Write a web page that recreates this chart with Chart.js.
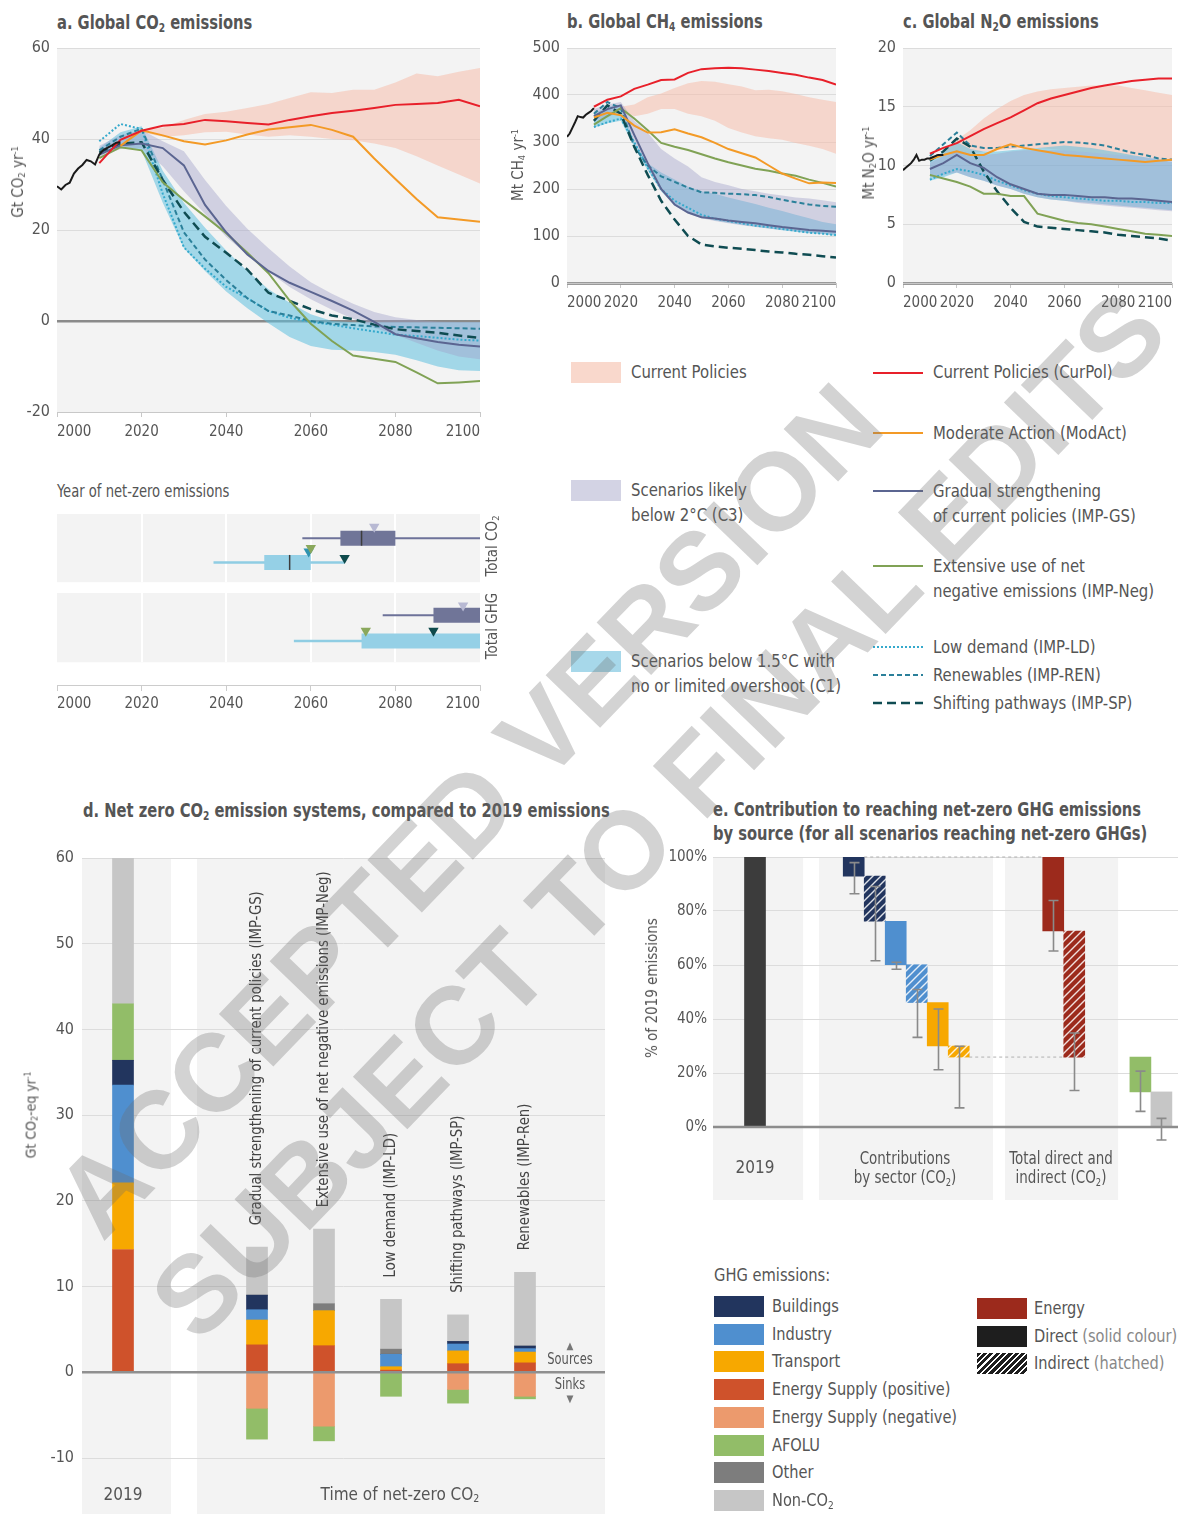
<!DOCTYPE html>
<html><head><meta charset="utf-8">
<script src="https://cdn.jsdelivr.net/npm/chart.js@4.4.1/dist/chart.umd.min.js"></script>
<style>
html,body{margin:0;padding:0;background:#fff}
body{width:1178px;height:1514px;position:relative;overflow:hidden;font-family:'DejaVu Sans Condensed','Liberation Sans Narrow',sans-serif;color:#555}
canvas{position:absolute}
.t{position:absolute;white-space:nowrap;line-height:1.2;font-size:18px}
.ttl{font-weight:bold;font-size:19px;color:#555}
sub{font-size:0.62em;vertical-align:-0.25em;line-height:0}
sup{font-size:0.6em;vertical-align:0.55em;line-height:0}
.sw{position:absolute}
.wm{position:absolute;white-space:nowrap;font-family:'Liberation Sans',Arial,sans-serif;font-weight:bold;font-size:110px;color:#6e6e6e;opacity:.3;z-index:20;pointer-events:none;line-height:1}
</style></head><body>
<script>
// ================= DATA =================
const yrs = [2010,2015,2020,2025,2030,2035,2040,2045,2050,2055,2060,2065,2070,2075,2080,2085,2090,2095,2100];

// a. CO2 (Gt CO2/yr)
const aHistYears = [2000,2001,2002,2003,2004,2005,2006,2007,2008,2009,2010,2011,2012,2013,2014,2015];
const aHist = [29.6,28.9,29.9,30.4,32.4,33.5,34.3,35.4,35.1,34.4,36.6,37.6,38.1,38.6,39.2,39.3];
const aCurPol = [34.7,39.8,41.8,42.9,43.3,44.2,43.9,43.5,43.2,44.2,45.0,45.7,46.2,46.8,47.5,47.7,47.9,48.6,47.2];
const aModAct = [null,38.5,41.9,40.8,39.5,38.8,39.7,41.0,42.1,42.6,43.1,42.0,40.5,35.7,31.2,26.8,22.8,22.3,21.8];
const aGS = [36.6,38.6,39.0,38.0,34.2,25.5,19.5,14.6,11.0,8.4,6.4,4.4,2.3,-0.2,-2.9,-3.8,-4.6,-5.2,-5.6];
const aNeg = [35.8,38.2,37.5,30.5,26.6,23.0,19.3,15.0,10.5,4.5,-0.6,-4.4,-7.6,-8.3,-9.0,-11.3,-13.7,-13.5,-13.2];
const aLD = [39.5,43.3,42.2,28.0,16.2,11.5,7.5,5.0,2.2,0.7,-0.2,-0.8,-1.6,-2.3,-3.0,-3.3,-3.7,-4.1,-4.3];
const aRen = [37.5,40.5,42.3,31.0,19.5,13.5,9.0,5.0,2.2,1.2,0.0,-0.6,-0.9,-1.2,-1.3,-1.4,-1.5,-1.6,-1.7];
const aSP = [37.0,39.0,39.3,31.0,24.0,18.5,15.0,11.3,6.2,4.4,2.6,1.2,0.4,-0.8,-1.8,-2.2,-2.6,-3.2,-3.7];
const aCPHi = [null,null,42.0,42.5,44.2,45.5,46.0,46.8,47.7,49.0,50.3,50.1,50.8,50.8,52.4,54.4,53.8,54.8,55.6];
const aCPLo = [null,null,41.5,40.5,40.8,41.5,41.6,41.0,40.5,40.8,40.5,40.0,39.7,39.0,38.0,36.2,34.2,32.2,30.2];
const aC3Hi = [38.5,40.8,42.0,39.5,37.3,31.0,25.3,20.3,16.0,12.0,8.5,6.0,3.8,2.0,0.8,0.2,-0.1,-0.2,-0.2];
const aC3Lo = [36.0,37.8,38.0,34.0,28.5,23.5,18.5,14.5,10.8,7.5,4.8,2.5,0.5,-1.5,-3.0,-4.8,-6.5,-7.8,-8.4];
const aC1Hi = [38.0,41.5,42.8,33.0,26.0,20.5,15.5,11.0,7.0,4.0,1.5,0.0,-0.3,-0.3,-0.3,-0.3,-0.3,-0.3,-0.3];
const aC1Lo = [36.5,38.5,37.5,26.0,16.0,11.0,6.5,2.8,-0.5,-3.5,-5.5,-6.3,-6.5,-6.8,-7.4,-8.6,-10.0,-10.8,-11.0];

// b. CH4 (Mt CH4/yr)
const bHistYears = [2000,2001,2002,2003,2004,2005,2006,2007,2008,2009,2010];
const bHist = [311,318,330,342,355,353,352,358,362,366,372];
const bCurPol = [375,390,397,413,422,432,433,447,455,457,458,457,454,451,447,443,437,432,422];
const bModAct = [352,362,357,335,320,321,327,318,310,298,285,276,267,250,233,222,212,214,213];
const bGS = [355,370,378,315,255,200,167,150,140,137,133,130,127,123,119,116,113,111,109];
const bNeg = [337,355,372,350,325,298,290,283,274,265,257,250,243,239,233,228,220,213,205];
const bLD = [332,342,350,300,245,200,175,160,145,137,132,127,122,119,115,111,107,105,102];
const bRen = [360,385,372,290,250,227,215,203,193,192,190,189,187,183,177,172,167,164,162];
const bSP = [345,378,360,290,230,175,135,100,82,78,75,73,70,67,65,62,60,57,54];
const bCPHi = [null,null,375,380,395,403,415,425,430,428,423,418,410,411,408,402,395,390,385];
const bCPLo = [null,null,368,355,360,370,370,360,355,345,330,320,312,308,305,298,292,285,275];
const bC3Hi = [370,380,385,345,320,285,265,248,225,215,208,200,195,190,186,182,180,176,172];
const bC3Lo = [345,352,365,300,245,200,165,148,138,132,127,123,119,116,113,110,107,105,103];
const bC1Hi = [360,375,380,300,255,235,220,205,195,190,182,175,168,160,153,145,138,130,125];
const bC1Lo = [330,340,345,290,240,195,165,150,140,133,128,124,120,116,112,109,106,104,100];

// c. N2O (Mt N2O/yr)
const cHistYears = [2000,2001,2002,2003,2004,2005,2006,2007,2008,2009,2010,2011,2012,2013,2014,2015];
const cHist = [9.6,9.8,10.0,10.2,10.5,10.9,10.4,10.5,10.5,10.6,10.6,10.7,10.8,10.9,10.9,10.9];
const cCurPol = [11.0,11.5,11.9,12.5,13.1,13.6,14.1,14.7,15.3,15.7,16.0,16.3,16.6,16.8,17.0,17.2,17.3,17.4,17.4];
const cModAct = [10.5,10.9,11.2,10.9,10.9,11.4,11.8,11.5,11.3,11.1,10.9,10.8,10.7,10.6,10.5,10.4,10.3,10.4,10.5];
const cGS = [9.7,10.2,10.9,10.2,9.8,9.0,8.4,8.0,7.6,7.5,7.5,7.4,7.3,7.3,7.2,7.2,7.1,7.0,6.9];
const cNeg = [9.2,8.9,8.6,8.2,7.6,7.6,7.4,7.4,5.9,5.6,5.3,5.1,5.0,4.8,4.6,4.4,4.2,4.1,4.0];
const cLD = [8.8,9.3,9.7,9.5,9.2,8.7,8.3,7.9,7.6,7.4,7.3,7.2,7.1,7.0,7.0,6.9,6.9,6.8,6.8];
const cRen = [10.8,11.8,12.8,11.7,11.5,11.5,11.6,11.7,11.8,11.9,12.0,11.95,11.85,11.7,11.4,11.1,10.9,10.6,10.5];
const cSP = [10.4,11.2,12.3,11.6,9.5,7.8,6.4,5.2,4.8,4.7,4.6,4.5,4.4,4.3,4.1,4.0,3.9,3.8,3.6];
const cCPHi = [null,11.2,12.2,13.0,14.0,14.8,15.5,16.0,16.3,16.5,16.6,16.7,16.8,16.8,16.8,16.6,16.4,16.2,16.0];
const cCPLo = [null,10.9,11.0,11.0,11.2,11.3,11.4,11.5,11.5,11.4,11.3,11.2,11.1,11.0,10.9,10.8,10.7,10.6,10.5];
const cC3Hi = [10.2,10.8,11.3,11.0,10.9,11.0,11.2,11.3,11.3,11.3,11.3,11.2,11.1,11.0,10.9,10.8,10.7,10.6,10.5];
const cC3Lo = [9.0,9.2,9.4,9.0,8.7,8.3,8.0,7.6,7.3,7.1,7.0,6.8,6.7,6.6,6.5,6.4,6.3,6.2,6.1];
const cC1Hi = [10.4,11.2,12.0,11.4,11.2,11.2,11.3,11.4,11.5,11.6,11.7,11.6,11.5,11.3,11.1,10.9,10.7,10.5,10.3];
const cC1Lo = [8.7,9.0,9.4,9.0,8.7,8.3,8.0,7.6,7.3,7.1,7.0,6.9,6.8,6.7,6.6,6.5,6.4,6.3,6.2];

// Year of net-zero emissions (rows: Total CO2, Total GHG)
const nzRows = ['Total CO₂','Total GHG'];
const nzC3Range = [[2058,2100],[2077,2100]];
const nzC3Box = [[2067,2080],[2089,2100]];
const nzC3Med = [2072,null];
const nzC1Range = [[2037,2068],[2056,2100]];
const nzC1Box = [[2049,2060],[2072,2100]];
const nzC1Med = [2055,null];
const nzGS = [2075,2096];
const nzNeg = [2060,2073];
const nzRen = [2059.5,null];
const nzSP = [2068,2089];

// d. Net zero CO2 emission systems (Gt CO2-eq/yr)
const dCats = ['2019','IMP-GS','IMP-Neg','IMP-LD','IMP-SP','IMP-Ren'];
const dLabels = ['','Gradual strengthening of current policies (IMP-GS)','Extensive use of net negative emissions (IMP-Neg)','Low demand (IMP-LD)','Shifting pathways (IMP-SP)','Renewables (IMP-Ren)'];
const dEnergyPos = [14.3,3.2,3.1,0.25,1.0,1.1];
const dEnergyNeg = [0,-4.2,-6.3,0,-2.0,-2.8];
const dTransport = [7.8,2.9,4.1,0.4,1.5,1.26];
const dIndustry = [11.4,1.2,0,1.45,0.8,0.4];
const dBuildings = [2.9,1.7,0,0,0.3,0.3];
const dOther = [0,0,0.8,0.6,0,0];
const dAFOLU = [6.6,-3.6,-1.7,-2.8,-1.6,-0.3];
const dNonCO2 = [17.0,5.6,8.7,5.8,3.1,8.6];

// e. Contribution to reaching net-zero GHG (% of 2019 emissions)
const eCats = ['2019','Buildings direct','Buildings indirect','Industry direct','Industry indirect','Transport direct','Transport indirect','Energy direct','Energy indirect','AFOLU','Non-CO₂'];
const eFrom = [0,92.9,76.2,60.1,46.1,30.0,25.9,72.6,25.9,13.0,0];
const eTo = [100,100,92.9,76.2,60.1,46.1,30.0,100,72.6,25.9,13.0];
const eErrLo = [null,86.4,61.6,58.4,33.2,21.2,7.1,65.2,13.5,5.8,-4.8];
const eErrHi = [null,97.9,89.1,61.0,50.9,43.7,29.9,83.9,34.8,20.7,3.2];

// ================= STYLE / LAYOUT =================
const FF = "'DejaVu Sans Condensed','Liberation Sans Narrow',sans-serif";
const COL = {cur:'#e8202a', mod:'#f39a26', gs:'#5b6591', neg:'#80a255', ld:'#35a9cc', ren:'#2b809a', sp:'#0f4c52', hist:'#1a1a1a',
  bandCP:'rgba(247,185,165,0.5)', bandC3:'rgba(160,160,200,0.42)', bandC1:'rgba(95,192,222,0.55)'};
const SEC = {bld:'#22355e', ind:'#4f8fcf', tra:'#f7a800', esp:'#cf522b', esn:'#ec9a6d', afolu:'#92bd68', oth:'#7d7d7d', non:'#c6c6c6', energy:'#9c2a1c', base:'#3c3c3c'};

Chart.defaults.font.family = FF;
Chart.defaults.color = '#555';
Chart.defaults.animation = false;
Chart.defaults.responsive = false;
Chart.defaults.devicePixelRatio = 1;
Chart.defaults.plugins.legend.display = false;
Chart.defaults.plugins.tooltip.enabled = false;

function cv(left, top, w, h){const c=document.createElement('canvas');c.width=w;c.height=h;c.style.left=left+'px';c.style.top=top+'px';c.style.width=w+'px';c.style.height=h+'px';document.body.appendChild(c);return c.getContext('2d');}
function txt(x,y,html,cls,style,sx,center,rot){const d=document.createElement('div');d.className='t '+(cls||'');d.innerHTML=html;d.style.left=x+'px';d.style.top=y+'px';
  d.style.transformOrigin=center?'center center':'left center';
  d.style.transform=(center?'translate(-50%,-50%)':'translateY(-50%)')+(rot?` rotate(${rot}deg)`:'')+` scaleX(${sx||1})`;
  Object.assign(d.style,style||{});document.body.appendChild(d);return d;}
function box(x,y,w,h,bg){const d=document.createElement('div');d.className='sw';Object.assign(d.style,{left:x+'px',top:y+'px',width:w+'px',height:h+'px',background:bg});document.body.appendChild(d);return d;}
function noPadY(s,w){s.width=w;s.paddingTop=0;s.paddingBottom=0;}
function noPadX(s,h){s.height=h;s.paddingLeft=0;s.paddingRight=0;}

const plotBg = {id:'plotBg', beforeDraw(ch,a,o){ if(!o.color) return; const {ctx,chartArea:ca}=ch; ctx.save(); ctx.fillStyle=o.color; ctx.fillRect(ca.left,ca.top,ca.right-ca.left,ca.bottom-ca.top); ctx.restore(); }};

function pts(xs,ys){return xs.map((x,i)=>({x,y:ys[i]}));}
function lineDs(xs,ys,color,dash,w){return {data:pts(xs,ys),borderColor:color,borderDash:dash||[],borderWidth:w||2,pointRadius:0,fill:false,tension:0,order:0,borderCapStyle:'butt'};}
function bandDs(xs,lo,hi,color,order){return [{data:pts(xs,lo),borderWidth:0,pointRadius:0,fill:false,order},{data:pts(xs,hi),borderWidth:0,pointRadius:0,fill:'-1',backgroundColor:color,order}];}

function emissionsChart(ctx, pad, yW, xH, yMin, yMax, yStep, zeroStyle, S){
  const ds = [
    lineDs(S.histYears,S.hist,COL.hist,[],2),
    lineDs(yrs,S.cur,COL.cur,[],2),
    lineDs(yrs,S.mod,COL.mod,[],2),
    lineDs(yrs,S.gs,COL.gs,[],2),
    lineDs(yrs,S.neg,COL.neg,[],2),
    lineDs(yrs,S.sp,COL.sp,[9,5],2.5),
    lineDs(yrs,S.ren,COL.ren,[5,3],2),
    lineDs(yrs,S.ld,COL.ld,[2,2],2),
    ...bandDs(yrs,S.cpLo,S.cpHi,COL.bandCP,30),
    ...bandDs(yrs,S.c1Lo,S.c1Hi,COL.bandC1,20),
    ...bandDs(yrs,S.c3Lo,S.c3Hi,COL.bandC3,10)
  ];
  return new Chart(ctx,{type:'line',data:{datasets:ds},options:{
    layout:{padding:pad},
    scales:{
      x:{type:'linear',min:2000,max:2100,ticks:{stepSize:20,align:'inner',maxRotation:0,autoSkip:false,font:{size:15},padding:6,callback:v=>String(v)},
         grid:{drawOnChartArea:false,tickLength:5,color:'#c8c8c8'},border:{color:'#c8c8c8'},afterFit(s){noPadX(s,xH);}},
      y:{min:yMin,max:yMax,ticks:{stepSize:yStep,font:{size:16},padding:7,callback:v=>String(v)},
         grid:{color:c=>c.tick.value===0?zeroStyle.c:'#dcdcdc',lineWidth:c=>c.tick.value===0?zeroStyle.w:1,drawTicks:false},
         border:{display:false},afterFit(s){noPadY(s,yW);}}
    },
    plugins:{plotBg:{color:'#f3f3f3'}}
  },plugins:[plotBg]});
}

// ---- a ----
emissionsChart(cv(0,40,492,410),{left:5,top:8,right:12,bottom:0},52,38,-20,60,20,{c:'#8a8a8a',w:2.5},
 {histYears:aHistYears,hist:aHist,cur:aCurPol,mod:aModAct,gs:aGS,neg:aNeg,ld:aLD,ren:aRen,sp:aSP,cpHi:aCPHi,cpLo:aCPLo,c3Hi:aC3Hi,c3Lo:aC3Lo,c1Hi:aC1Hi,c1Lo:aC1Lo});
// ---- b ----
emissionsChart(cv(500,40,345,285),{left:5,top:8,right:9,bottom:0},62,42,0,500,100,{c:'#9a9a9a',w:3},
 {histYears:bHistYears,hist:bHist,cur:bCurPol,mod:bModAct,gs:bGS,neg:bNeg,ld:bLD,ren:bRen,sp:bSP,cpHi:bCPHi,cpLo:bCPLo,c3Hi:bC3Hi,c3Lo:bC3Lo,c1Hi:bC1Hi,c1Lo:bC1Lo});
// ---- c ----
emissionsChart(cv(845,40,333,285),{left:12,top:8,right:6,bottom:0},46,42,0,20,5,{c:'#9a9a9a',w:3},
 {histYears:cHistYears,hist:cHist,cur:cCurPol,mod:cModAct,gs:cGS,neg:cNeg,ld:cLD,ren:cRen,sp:cSP,cpHi:cCPHi,cpLo:cCPLo,c3Hi:cC3Hi,c3Lo:cC3Lo,c1Hi:cC1Hi,c1Lo:cC1Lo});

// ---- net-zero year panel ----
const NZ = {bands:[[0,69],[80,150]], c3:[24.5,102.5], c1:[49,128.5], gs:[13,92.5], neg:[34.5,118], ren:[38,118], sp:[44.5,118]};
const nzBg = {id:'nzBg', beforeDraw(ch){const {ctx,chartArea:ca,scales:{x,y}}=ch; ctx.save();
  NZ.bands.forEach(b=>{const y0=y.getPixelForValue(b[0]), y1=y.getPixelForValue(b[1]); ctx.fillStyle='#f3f3f3'; ctx.fillRect(ca.left,y0,ca.right-ca.left,y1-y0);
    ctx.strokeStyle='#ffffff'; ctx.lineWidth=2; [2020,2040,2060,2080].forEach(v=>{const px=Math.round(x.getPixelForValue(v)); ctx.beginPath(); ctx.moveTo(px,y0); ctx.lineTo(px,y1); ctx.stroke();});});
  ctx.restore();}};
const nzDs = [];
nzRows.forEach((r,i)=>{
  nzDs.push({data:[{x:nzC3Range[i][0],y:NZ.c3[i]},{x:nzC3Range[i][1],y:NZ.c3[i]}],borderColor:'#6d7299',borderWidth:2,pointRadius:0,order:5});
  nzDs.push({data:[{x:nzC3Box[i][0],y:NZ.c3[i]},{x:nzC3Box[i][1],y:NZ.c3[i]}],borderColor:'#707598',borderWidth:15,borderCapStyle:'butt',pointRadius:0,order:4});
  nzDs.push({data:[{x:nzC1Range[i][0],y:NZ.c1[i]},{x:nzC1Range[i][1],y:NZ.c1[i]}],borderColor:'#8fcde3',borderWidth:2.5,pointRadius:0,order:5});
  nzDs.push({data:[{x:nzC1Box[i][0],y:NZ.c1[i]},{x:nzC1Box[i][1],y:NZ.c1[i]}],borderColor:'#95d0e6',borderWidth:15,borderCapStyle:'butt',pointRadius:0,order:4});
});
nzDs.push({showLine:false,data:[nzC3Med[0]!=null?{x:nzC3Med[0],y:NZ.c3[0]}:null,nzC1Med[0]!=null?{x:nzC1Med[0],y:NZ.c1[0]}:null].filter(Boolean),pointStyle:'line',rotation:90,pointRadius:7.5,borderColor:'#3d3d3d',pointBorderWidth:1.5,order:1});
function tri(vals,ys,color){return {showLine:false,data:vals.map((v,i)=>v==null?null:{x:v,y:ys[i]}).filter(Boolean),pointStyle:'triangle',rotation:180,pointRadius:6,pointBackgroundColor:color,pointBorderWidth:0,borderColor:color,order:0};}
nzDs.push(tri(nzGS,NZ.gs,'#b8b9d3'), tri(nzNeg,NZ.neg,'#8aa85c'), tri(nzRen,NZ.ren,'#2f93b0'), tri(nzSP,NZ.sp,'#0e4a4c'));
new Chart(cv(0,505,492,215),{type:'line',data:{datasets:nzDs},options:{
  layout:{padding:{left:57,top:7,right:12,bottom:0}},
  scales:{x:{type:'linear',min:2000,max:2100,ticks:{stepSize:20,align:'inner',maxRotation:0,font:{size:15},padding:4,callback:v=>String(v)},grid:{drawOnChartArea:false,tickLength:6,color:'#cccccc'},border:{color:'#cccccc'},afterFit(s){noPadX(s,35);}},
          y:{type:'linear',min:0,max:173,reverse:true,display:false}}
},plugins:[nzBg]});

// ---- d ----
const dSlot = dCats.map((c,i)=>i===0?0:i+1);
const dGap = [0.716,1.104];
const dSeries = [
  {v:dEnergyPos,c:SEC.esp},{v:dEnergyNeg,c:SEC.esn},{v:dTransport,c:SEC.tra},{v:dIndustry,c:SEC.ind},
  {v:dBuildings,c:SEC.bld},{v:dOther,c:SEC.oth},{v:dAFOLU,c:SEC.afolu},{v:dNonCO2,c:SEC.non}];
const dPlug = {id:'dPlug',
  beforeDraw(ch){const {ctx,chartArea:ca,scales:{x}}=ch; ctx.save(); ctx.fillStyle='#f3f3f3';
    const g0=x.getPixelForValue(dGap[0]), g1=x.getPixelForValue(dGap[1]);
    ctx.fillRect(ca.left,ca.top,g0-ca.left,ch.height-ca.top); ctx.fillRect(g1,ca.top,ca.right-g1,ch.height-ca.top); ctx.restore();},
  afterDatasetsDraw(ch){const {ctx,chartArea:ca,scales:{x,y}}=ch; ctx.save();
    const y0=y.getPixelForValue(0); ctx.strokeStyle='#8f8f8f'; ctx.lineWidth=2.5; ctx.beginPath(); ctx.moveTo(ca.left,y0); ctx.lineTo(ca.right,y0); ctx.stroke();
    ctx.fillStyle='#444'; ctx.font='16px '+FF; ctx.textAlign='left'; ctx.textBaseline='middle';
    dCats.forEach((c,i)=>{ if(!dLabels[i]) return; const top=dSeries.reduce((s,d)=>s+Math.max(0,d.v[i]),0);
      const px=x.getPixelForValue(dSlot[i]), py=y.getPixelForValue(top)-22;
      ctx.save(); ctx.translate(px,py); ctx.rotate(-Math.PI/2); ctx.scale(0.92,1); ctx.fillText(dLabels[i],0,0); ctx.restore();});
    ctx.restore();}};
new Chart(cv(0,840,620,674),{type:'bar',data:{datasets:dSeries.map(s=>({data:dSlot.map((x,i)=>({x,y:s.v[i]})),backgroundColor:s.c,barThickness:21,borderWidth:0}))},options:{
  layout:{padding:{left:18,top:18,right:15,bottom:56}},
  scales:{x:{type:'linear',min:-0.612,max:7.194,offset:false,stacked:true,display:false},
          y:{stacked:true,min:-10,max:60,ticks:{stepSize:10,font:{size:16},padding:8,callback:v=>String(v)},grid:{color:'#dcdcdc',drawTicks:false},border:{display:false},
             afterFit(s){noPadY(s,64);}}}
},plugins:[dPlug]});

// ---- e ----
function hatch(color){const c=document.createElement('canvas');c.width=c.height=8;const x=c.getContext('2d');x.fillStyle=color;x.fillRect(0,0,8,8);x.strokeStyle='rgba(255,255,255,0.85)';x.lineWidth=1.4;x.beginPath();x.moveTo(0,8);x.lineTo(8,0);x.moveTo(-2,2);x.lineTo(2,-2);x.moveTo(6,10);x.lineTo(10,6);x.stroke();return x.createPattern(c,'repeat');}
const eSlot = [2,6.7,7.7,8.7,9.7,10.7,11.7,16.2,17.2,20.35,21.35];
const eColors = [SEC.base,SEC.bld,hatch(SEC.bld),SEC.ind,hatch(SEC.ind),SEC.tra,hatch(SEC.tra),SEC.energy,hatch(SEC.energy),SEC.afolu,SEC.non];
const eBands = [[0,4.29],[5.05,13.33],[13.9,19.29]];
const ePlug = {id:'ePlug',
  beforeDraw(ch){const {ctx,chartArea:ca,scales:{x}}=ch; ctx.save(); ctx.fillStyle='#f3f3f3';
    eBands.forEach(b=>{const a=x.getPixelForValue(b[0]), c=x.getPixelForValue(b[1]); ctx.fillRect(a,ca.top,c-a,355-ca.top);}); ctx.restore();},
  afterDatasetsDraw(ch){const {ctx,chartArea:ca,scales:{x,y}}=ch; ctx.save();
    const y0=y.getPixelForValue(0); ctx.strokeStyle='#8c8c8c'; ctx.lineWidth=2.5; ctx.beginPath(); ctx.moveTo(ca.left,y0); ctx.lineTo(ca.right,y0); ctx.stroke();
    ctx.strokeStyle='#b0b0b0'; ctx.lineWidth=1; ctx.setLineDash([3,3]);
    const hw=0.5;
    [[1,7,eTo[1],eTo[7]],[6,8,eFrom[6],eFrom[8]]].forEach(([i,j,v1,v2])=>{ctx.beginPath(); ctx.moveTo(x.getPixelForValue(eSlot[i]+hw),y.getPixelForValue(v1)); ctx.lineTo(x.getPixelForValue(eSlot[j]-hw),y.getPixelForValue(v2)); ctx.stroke();});
    ctx.setLineDash([]);
    ctx.strokeStyle='#8a8a8a'; ctx.lineWidth=1.6;
    eErrLo.forEach((lo,i)=>{ if(lo==null) return; const px=Math.round(x.getPixelForValue(eSlot[i]))+0.5, a=y.getPixelForValue(lo), b=y.getPixelForValue(eErrHi[i]);
      ctx.beginPath(); ctx.moveTo(px,a); ctx.lineTo(px,b); ctx.moveTo(px-5,a); ctx.lineTo(px+5,a); ctx.moveTo(px-5,b); ctx.lineTo(px+5,b); ctx.stroke();});
    ctx.restore();}};
new Chart(cv(640,845,538,370),{type:'bar',data:{datasets:[{data:eSlot.map((x,i)=>({x,y:[eFrom[i],eTo[i]]})),backgroundColor:eColors,barThickness:21,borderWidth:0,borderSkipped:false}]},options:{
  layout:{padding:{left:0,top:12,right:0,bottom:61}},
  scales:{x:{type:'linear',min:0,max:22.14,offset:false,display:false},
          y:{min:-10,max:100,afterBuildTicks(s){s.ticks=s.ticks.filter(t=>t.value>=0);},ticks:{stepSize:20,font:{size:15},padding:6,callback:v=>v+'%'},
             grid:{color:'#dcdcdc',drawTicks:false},border:{display:false},afterFit(s){noPadY(s,73);}}}
},plugins:[ePlug]});

// ================= TEXT & LEGENDS =================
const TS = 0.86; // title condensing
txt(57,22,'a. Global CO<sub>2</sub> emissions','ttl',{},TS);
txt(567,21,'b. Global CH<sub>4</sub> emissions','ttl',{},TS);
txt(903,21,'c. Global N<sub>2</sub>O emissions','ttl',{},TS);
// axis titles
txt(18,182,'Gt CO<sub>2</sub> yr<sup>-1</sup>','',{fontSize:'15px'},1,true,-90);
txt(518,165,'Mt CH<sub>4</sub> yr<sup>-1</sup>','',{fontSize:'15px'},1,true,-90);
txt(869,163,'Mt N<sub>2</sub>O yr<sup>-1</sup>','',{fontSize:'15px'},1,true,-90);
txt(31,1115,'Gt CO<sub>2</sub>-eq yr<sup>-1</sup>','',{fontSize:'14px'},1,true,-90);
txt(652,988,'% of 2019 emissions','',{fontSize:'15px'},1,true,-90);

txt(57,491,'Year of net-zero emissions','',{fontSize:'17px'},0.86);
txt(492,546,'Total CO<sub>2</sub>','',{fontSize:'15px'},1,true,-90);
txt(492,626,'Total GHG','',{fontSize:'15px'},1,true,-90);

// middle legend
const LS = 0.92;
box(571,362,50,21,'#f9d8cc'); box(571,480,50,21,'#d3d3e4'); box(571,651,50,21,'#a7d8ea');
txt(631,372,'Current Policies','',{},LS); txt(631,490,'Scenarios likely','',{},LS); txt(631,515,'below 2°C (C3)','',{},LS);
txt(631,661,'Scenarios below 1.5°C with','',{},LS); txt(631,686,'no or limited overshoot (C1)','',{},LS);
function lsw(y,color,dash,w){const s=document.createElementNS('http://www.w3.org/2000/svg','svg');s.setAttribute('width','50');s.setAttribute('height','8');s.style.position='absolute';s.style.left='873px';s.style.top=(y-4)+'px';
  s.innerHTML=`<line x1="0" y1="4" x2="50" y2="4" stroke="${color}" stroke-width="${w}" ${dash?`stroke-dasharray="${dash}"`:''}/>`;document.body.appendChild(s);}
lsw(373,COL.cur,'',2.2); lsw(433,COL.mod,'',2.2); lsw(491,COL.gs,'',2.2); lsw(566,COL.neg,'',2.2); lsw(647,COL.ld,'2,2',2); lsw(675,COL.ren,'5,3',2); lsw(703,COL.sp,'9,5',2.5);
txt(933,372,'Current Policies (CurPol)','',{},LS); txt(933,433,'Moderate Action (ModAct)','',{},LS);
txt(933,491,'Gradual strengthening','',{},LS); txt(933,516,'of current policies (IMP-GS)','',{},LS);
txt(933,566,'Extensive use of net','',{},LS); txt(933,591,'negative emissions (IMP-Neg)','',{},LS);
txt(933,647,'Low demand (IMP-LD)','',{},LS); txt(933,675,'Renewables (IMP-REN)','',{},LS); txt(933,703,'Shifting pathways (IMP-SP)','',{},LS);

// d texts
txt(83,810,'d. Net zero CO<sub>2</sub> emission systems, compared to 2019 emissions','ttl',{},TS);
txt(123,1494,'2019','',{fontSize:'17px'},1,true);
txt(400,1494,'Time of net-zero CO<sub>2</sub>','',{fontSize:'17px'},1,true);
txt(570,1346,'▲','',{fontSize:'10px',color:'#777'},1,true);
txt(570,1359,'Sources','',{fontSize:'15px'},0.85,true);
txt(570,1384,'Sinks','',{fontSize:'15px'},0.85,true);
txt(570,1399,'▼','',{fontSize:'10px',color:'#777'},1,true);

// e texts
txt(713,809,'e. Contribution to reaching net-zero GHG emissions','ttl',{},TS);
txt(713,833,'by source (for all scenarios reaching net-zero GHGs)','ttl',{},TS);
txt(755,1167,'2019','',{fontSize:'17px'},1,true);
txt(905,1168,'Contributions<br>by sector (CO<sub>2</sub>)','',{fontSize:'17px',textAlign:'center',lineHeight:'19px'},0.88,true);
txt(1061,1168,'Total direct and<br>indirect (CO<sub>2</sub>)','',{fontSize:'17px',textAlign:'center',lineHeight:'19px'},0.88,true);

// bottom legend
txt(714,1275,'GHG emissions:','',{fontSize:'17px'},0.96);
const legL = [['Buildings',SEC.bld],['Industry',SEC.ind],['Transport',SEC.tra],['Energy Supply (positive)',SEC.esp],['Energy Supply (negative)',SEC.esn],['AFOLU',SEC.afolu],['Other',SEC.oth],['Non-CO<sub>2</sub>',SEC.non]];
legL.forEach((l,i)=>{const y=1306+i*27.7; box(714,y-10,50,21,l[1]); txt(772,y,l[0],'',{},0.9);});
const legR = [['Energy',SEC.energy],['Direct <span style="color:#888">(solid colour)</span>','#1e1e1e'],['Indirect <span style="color:#888">(hatched)</span>','repeating-linear-gradient(135deg,#1e1e1e 0 3px,#ffffff 3px 4.5px)']];
legR.forEach((l,i)=>{const y=1308+i*27.7; box(977,y-10,50,21,l[1]); txt(1034,y,l[0],'',{},0.9);});

// watermark
function wm(cx,cy,text){const d=document.createElement('div');d.className='wm';d.textContent=text;d.style.left=cx+'px';d.style.top=cy+'px';d.style.transform='translate(-50%,-50%) rotate(-46deg)';document.body.appendChild(d);}
wm(468,810,'ACCEPTED VERSION');
wm(658,815,'SUBJECT TO FINAL EDITS');
</script>
</body></html>
